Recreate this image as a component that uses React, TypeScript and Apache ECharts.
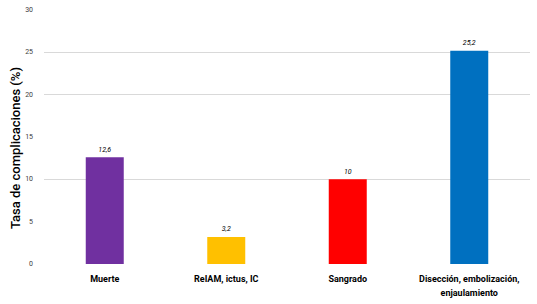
import React, { useEffect, useRef } from "react";
import * as echarts from "echarts";

const categories = ["Muerte", "ReIAM, ictus, IC", "Sangrado", "Disección, embolización,\nenjaulamiento"];
const values = [12.6, 3.2, 10, 25.2];
const barColors = ["#7030A0", "#FFC000", "#FF0000", "#0070C0"];
const yTicks = [0, 5, 10, 15, 20, 25, 30];
const yAxisTitle = "Tasa de complicaciones (%)";

export default function App() {
  const ref = useRef<HTMLDivElement>(null);
  useEffect(() => {
    if (!ref.current) return;
    const chart = echarts.init(ref.current, null, { renderer: "svg" });
    chart.setOption({
      animation: false,
      backgroundColor: "#ffffff",
      grid: { left: 44, right: 7, top: 10, bottom: 40, containLabel: false },
      xAxis: {
        type: "category",
        data: categories,
        axisLine: { show: false },
        axisTick: { show: false },
        axisLabel: {
          color: "#000000",
          fontFamily: "Roboto",
          fontWeight: "bold",
          fontSize: 9,
          margin: 8,
          lineHeight: 14,
          interval: 0,
        },
      },
      yAxis: {
        type: "value",
        min: yTicks[0],
        max: yTicks[yTicks.length - 1],
        interval: 5,
        axisLine: { show: false },
        axisTick: { show: false },
        axisLabel: {
          color: "#404040",
          fontFamily: "Roboto",
          fontSize: 7,
          margin: 11,
        },
        splitLine: {
          show: true,
          lineStyle: {
            color: ["rgba(0,0,0,0)", "rgba(0,0,0,0)", "#d9d9d9", "rgba(0,0,0,0)", "#d9d9d9", "#d9d9d9", "rgba(0,0,0,0)"],
            width: 1,
          },
        },
      },
      series: [
        {
          type: "bar",
          barWidth: 38,
          data: values.map((v, i) => ({ value: v, itemStyle: { color: barColors[i] } })),
          label: {
            show: true,
            position: "top",
            distance: 4,
            color: "#000000",
            fontFamily: "Roboto",
            fontStyle: "italic",
            fontSize: 7,
            formatter: (p: any) => String(p.value).replace(".", ","),
          },
        },
      ],
      graphic: [
        {
          type: "text",
          x: 15,
          y: 148,
          rotation: Math.PI / 2,
          style: {
            text: yAxisTitle,
            fill: "#000000",
            font: "500 13px Roboto",
            align: "center",
            verticalAlign: "middle",
          },
        },
      ],
    });
    return () => chart.dispose();
  }, []);
  return <div ref={ref} style={{ width: 537, height: 304, position: "absolute", left: 0, top: 0 }} />;
}
